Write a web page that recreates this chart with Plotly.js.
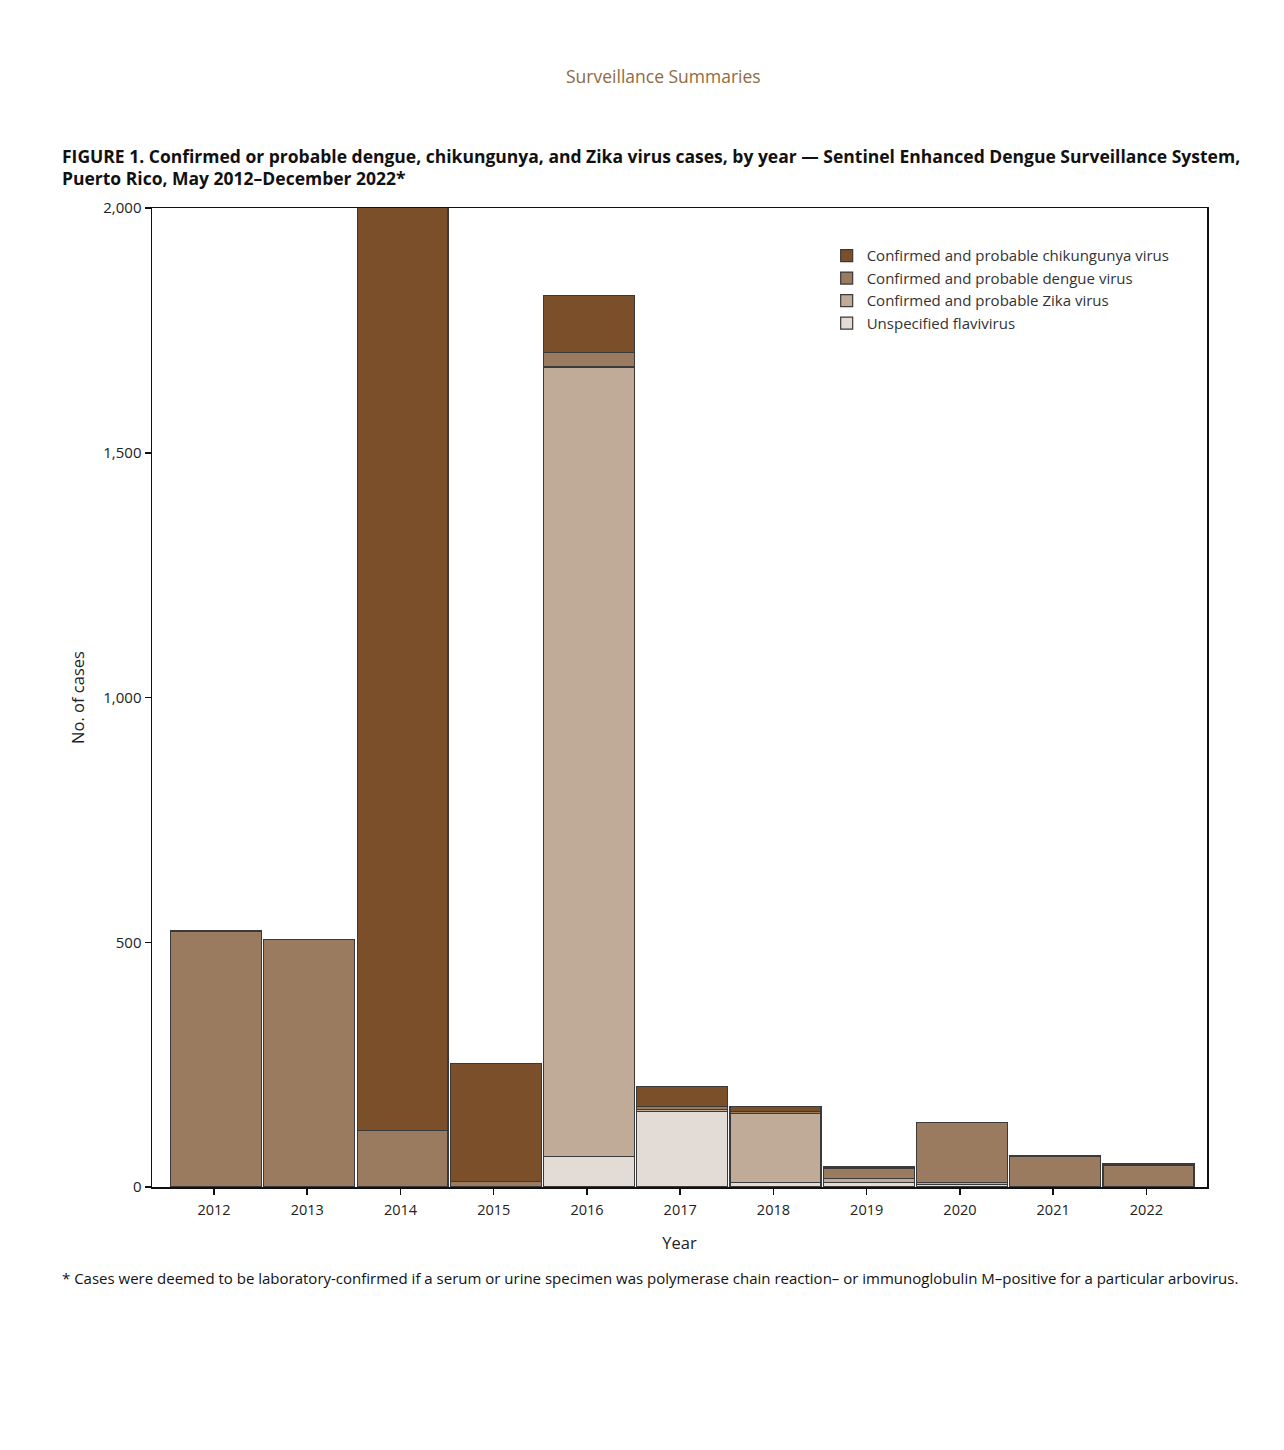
<!DOCTYPE html>
<html>
<head>
<meta charset="utf-8">
<script src="https://cdn.plot.ly/plotly-3.0.1.min.js"></script>
<style>html,body{margin:0;padding:0;background:#fff;}#chart{width:1284px;height:1450px;}</style>
</head>
<body>
<div id="chart"></div>
<script>
const years = ["2012","2013","2014","2015","2016","2017","2018","2019","2020","2021","2022"];
const unspecified = [0, 0, 0, 0, 62, 154, 10, 10, 5, 0, 0];
const zika = [0, 0, 0, 0, 1613, 4, 140, 8, 5, 0, 0];
const dengue = [523, 505, 116, 12, 30, 7, 5, 20, 121, 62, 44];
const chikungunya = [0, 0, 1900, 241, 117, 40, 10, 3, 0, 3, 3];
const seriesNames = ["Unspecified flavivirus", "Confirmed and probable Zika virus", "Confirmed and probable dengue virus", "Confirmed and probable chikungunya virus"];
const colors = ["#e3dcd6", "#bfab98", "#9b7b5f", "#7a4f29"];
const yTicks = [0, 500, 1000, 1500, 2000];
const yTickText = ["0", "500", "1,000", "1,500", "2,000"];

const font = "'Open Sans', 'Noto Sans', sans-serif";
const data = [unspecified, zika, dengue, chikungunya].map((vals, i) => ({
  type: "bar",
  x: years,
  y: vals,
  name: seriesNames[i],
  width: 0.975,
  offset: -0.465,
  marker: {color: colors[i], line: {color: "#3a3a3a", width: 1.2}},
  hoverinfo: "x+y+name"
}));

const layout = {
  width: 1284, height: 1450,
  margin: {l: 152, r: 77, t: 208, b: 263},
  paper_bgcolor: "#fff", plot_bgcolor: "#fff",
  barmode: "stack", bargap: 0,
  font: {family: font, size: 14, color: "#222"},
  showlegend: true,
  legend: {x: 0.6395, y: 0.968, xanchor: "left", yanchor: "top", traceorder: "reversed",
           font: {family: font, size: 15, color: "#333"}, bgcolor: "rgba(0,0,0,0)", tracegroupgap: 0},
  xaxis: {
    type: "category", range: [-0.665, 10.65],
    showline: true, linecolor: "#111", linewidth: 1.5, mirror: true,
    ticks: "outside", ticklen: 6, tickcolor: "#111", tickwidth: 1.5,
    ticklabelstandoff: 3,
    showgrid: false, zeroline: false,
    tickfont: {family: font, size: 14.5, color: "#222"},
    title: {text: "Year", font: {family: font, size: 16.5, color: "#222"}, standoff: 19}
  },
  yaxis: {
    range: [0, 2000], tickvals: yTicks, tickmode: "array", ticktext: yTickText,
    showline: true, linecolor: "#111", linewidth: 1.5, mirror: true,
    ticks: "outside", ticklen: 6, tickcolor: "#111", tickwidth: 1.5,
    showgrid: false, zeroline: false,
    tickfont: {family: font, size: 15, color: "#222"},
    title: {text: "No. of cases", font: {family: font, size: 16.5, color: "#222"}, standoff: 14}
  },
  annotations: [
    {text: "Surveillance Summaries", xref: "paper", yref: "paper", x: 0.485, y: 1.135, xanchor: "center", yanchor: "middle",
     showarrow: false, font: {family: font, size: 17.5, color: "#8f6b3e"}},
    {text: "<b>FIGURE 1. Confirmed or probable dengue, chikungunya, and Zika virus cases, by year — Sentinel Enhanced Dengue Surveillance System,</b>",
     xref: "paper", yref: "paper", x: -0.0872, y: 1.053, xanchor: "left", yanchor: "middle", showarrow: false,
     font: {family: font, size: 17.5, color: "#111"}},
    {text: "<b>Puerto Rico, May 2012–December 2022*</b>",
     xref: "paper", yref: "paper", x: -0.0872, y: 1.031, xanchor: "left", yanchor: "middle", showarrow: false,
     font: {family: font, size: 17.5, color: "#111"}},
    {text: "* Cases were deemed to be laboratory-confirmed if a serum or urine specimen was polymerase chain reaction– or immunoglobulin M–positive for a particular arbovirus.",
     xref: "paper", yref: "paper", x: -0.0872, y: -0.093, xanchor: "left", yanchor: "middle", showarrow: false,
     font: {family: font, size: 15, color: "#111"}}
  ]
};

Plotly.newPlot("chart", data, layout, {displayModeBar: false, staticPlot: true});
</script>
</body>
</html>
